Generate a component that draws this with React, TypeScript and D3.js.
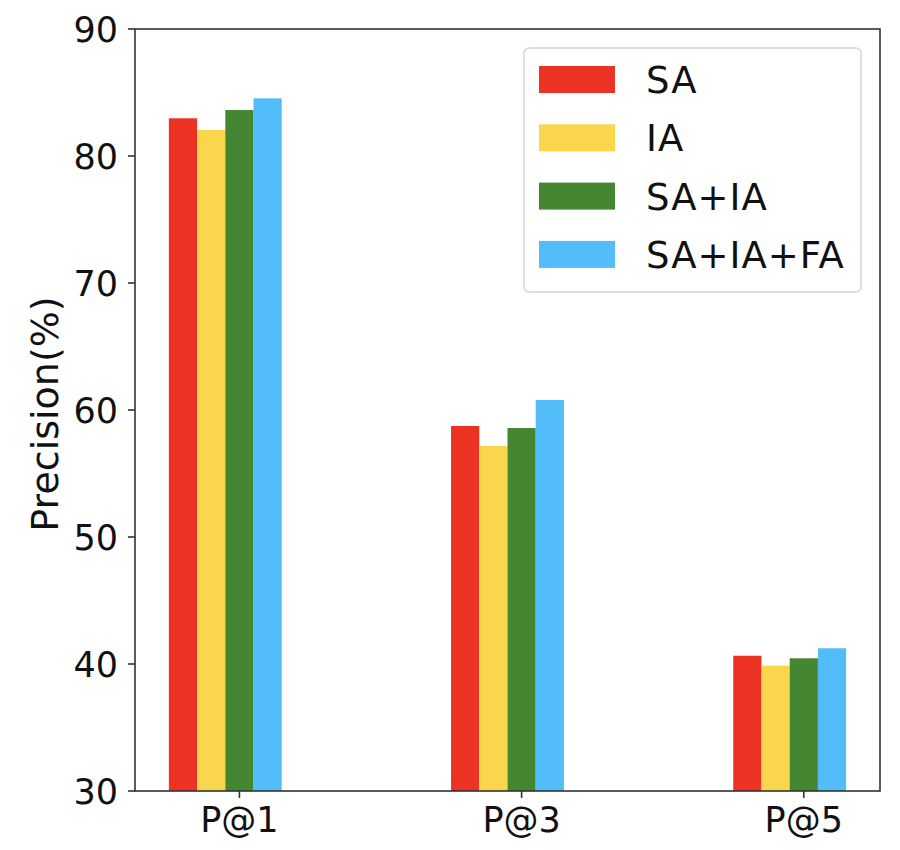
import * as d3 from 'd3';
import React from "react";

// categories and series
const categories = ["P@1", "P@3", "P@5"];
const seriesNames = ["SA", "IA", "SA+IA", "SA+IA+FA"];
const seriesColors = ["#EB3223", "#F9D64B", "#458633", "#52BDF9"];
const saValues = [82.97, 58.74, 40.65];
const iaValues = [82.05, 57.17, 39.87];
const saIaValues = [83.62, 58.58, 40.45];
const saIaFaValues = [84.54, 60.79, 41.24];
const yTicks = [30, 40, 50, 60, 70, 80, 90];

const values = [saValues, iaValues, saIaValues, saIaFaValues];

const W = 900, H = 850;
const m = { left: 135, right: 20, top: 29, bottom: 59 };
const barW = 0.1;
const font = "'DejaVu Sans', sans-serif";

export default function App() {
    const x = d3.scaleLinear()
        .domain([-0.05 - 0.12, 2.35 + 0.12])
        .range([m.left, W - m.right]);
    const y = d3.scaleLinear().domain([30, 90]).range([H - m.bottom, m.top]);
    const bw = x(barW) - x(0);

    const x0 = m.left, x1 = W - m.right, y0 = H - m.bottom, y1 = m.top;

    return (
        <svg width={W} height={H} viewBox={`0 0 ${W} ${H}`}
            style={{ position: "absolute", left: 0, top: 0, background: "#fff" }}
            fontFamily={font}>
            {/* bars */}
            {values.map((vals, s) => (
                <g key={seriesNames[s]} fill={seriesColors[s]}>
                    {vals.map((v, i) => {
                        const cx = x(i + s * barW);
                        return <rect key={i} x={cx - bw / 2} y={y(v)} width={bw} height={y(30) - y(v)} />;
                    })}
                </g>
            ))}

            {/* frame */}
            <rect x={x0} y={y1} width={x1 - x0} height={y0 - y1} fill="none" stroke="#333" strokeWidth={1.6} />

            {/* y axis */}
            {yTicks.map(t => (
                <g key={t}>
                    <line x1={x0 - 7} x2={x0} y1={y(t)} y2={y(t)} stroke="#333" strokeWidth={1.6} />
                    <text x={x0 - 17} y={y(t)} dy="0.36em" textAnchor="end" fontSize={35} fill="#111">{t}</text>
                </g>
            ))}
            <text transform={`translate(58,${(y0 + y1) / 2 + 4}) rotate(-90)`} textAnchor="middle" fontSize={38} fill="#111">Precision(%)</text>

            {/* x axis */}
            {categories.map((c, i) => {
                const tx = x(i + 2 * barW);
                return (
                    <g key={c}>
                        <line x1={tx} x2={tx} y1={y0} y2={y0 + 7} stroke="#333" strokeWidth={1.6} />
                        <text x={tx} y={832} textAnchor="middle" fontSize={35} fill="#111">{c}</text>
                    </g>
                );
            })}

            {/* legend */}
            <g>
                <rect x={524} y={48} width={337} height={244} rx={5} fill="#fff" fillOpacity={0.8} stroke="#d6d6d6" strokeWidth={1.5} />
                {seriesNames.map((n, s) => (
                    <g key={n} transform={`translate(0,${s * 58.3})`}>
                        <rect x={539} y={66} width={76} height={27} fill={seriesColors[s]} />
                        <text x={646} y={93} fontSize={37} letterSpacing={1} fill="#111">{n}</text>
                    </g>
                ))}
            </g>
        </svg>
    );
}
